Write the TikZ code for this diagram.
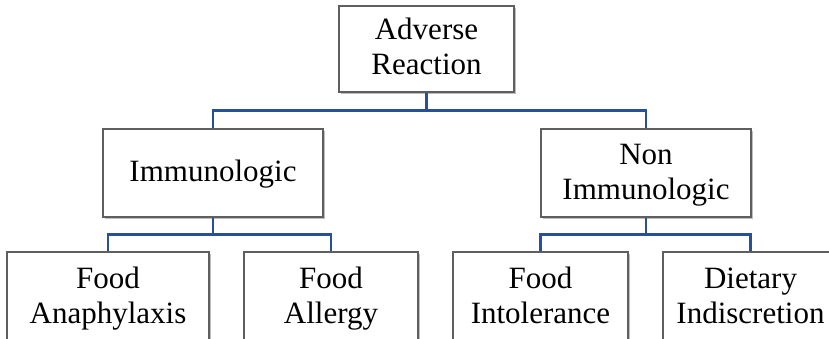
\documentclass[tikz,border=0pt]{standalone}
\usepackage{fontspec}
\setmainfont{Liberation Serif}
\usetikzlibrary{shadows}
\definecolor{connblue}{RGB}{40,80,150}
\definecolor{boxgray}{RGB}{95,95,95}
\newcommand{\mystrut}{\rule[-9pt]{0pt}{35pt}}
\tikzset{
  box/.style={draw=boxgray, line width=1.1pt, fill=white, inner sep=0pt,
    align=center, font=\fontsize{31}{35}\selectfont,
    drop shadow={shadow xshift=2pt, shadow yshift=-2pt, fill=black, opacity=0.25}},
  conn/.style={draw=connblue, line width=2.4pt}
}
\begin{document}
\begin{tikzpicture}[x=1pt,y=-1pt]
\clip (0,0) rectangle (829,339);
\fill[white] (0,0) rectangle (829,339);
\node[box, minimum width=175pt, minimum height=86pt] (top) at (426.5,49) {\mystrut Adverse\\\mystrut Reaction};
\node[box, minimum width=220pt, minimum height=88pt] (imm) at (213,173) {\mystrut Immunologic};
\node[box, minimum width=210pt, minimum height=88pt] (non) at (646,173) {\mystrut Non\\\mystrut Immunologic};
\node[box, minimum width=202pt, minimum height=90pt] (ana) at (108,297) {\mystrut Food\\\mystrut Anaphylaxis};
\node[box, minimum width=174pt, minimum height=90pt] (all) at (331,297) {\mystrut Food\\\mystrut Allergy};
\node[box, minimum width=175pt, minimum height=90pt] (int) at (540.5,297) {\mystrut Food\\\mystrut Intolerance};
\node[box, minimum width=175pt, minimum height=90pt] (die) at (750.5,297) {\mystrut Dietary\\\mystrut Indiscretion};
\draw[conn] (top.south) -- ++(0,18) -| (imm.north);
\draw[conn] (top.south) -- ++(0,18) -| (non.north);
\draw[conn] (imm.south) -- ++(0,17) -| (ana.north);
\draw[conn] (imm.south) -- ++(0,17) -| (all.north);
\draw[conn] (non.south) -- ++(0,17) -| (int.north);
\draw[conn] (non.south) -- ++(0,17) -| (die.north);
\end{tikzpicture}
\end{document}
